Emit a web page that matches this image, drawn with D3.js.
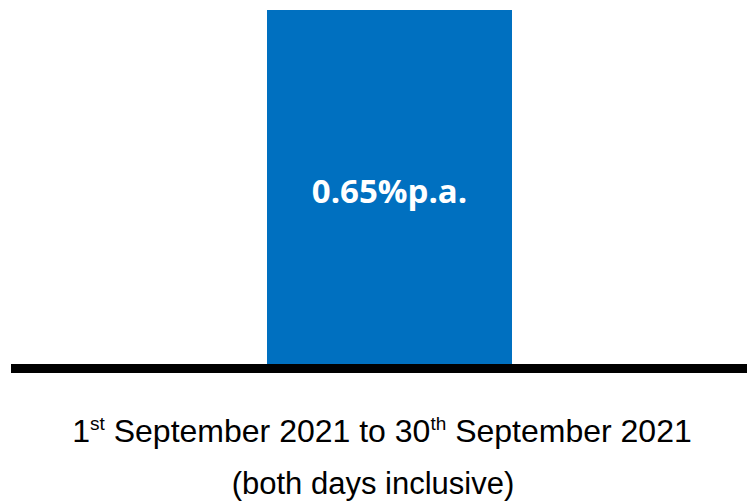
<!DOCTYPE html>
<html>
<head>
<meta charset="utf-8">
<script src="https://cdn.jsdelivr.net/npm/d3@7"></script>
<style>
  body { margin: 0; background: #fff; }
</style>
</head>
<body>
<script>
let categories = ['Sep 2021'];
let values = [0.65];
let valueLabels = ['0.65%p.a.'];
let periodLine1 = [['1', 'st'], [' September 2021 to 30', 'th'], [' September 2021', '']];
let periodLine2 = '(both days inclusive)';

let width = 747;
let height = 504;

let svg = d3.select('body')
            .append('svg')
            .attr('width', width)
            .attr('height', height)

let xScale = d3.scaleBand()
                .domain(categories)
                .range([267, 512])
                .padding(0)

let yScale = d3.scaleLinear()
                .domain([0, 0.65])
                .range([364, 10])

svg.selectAll('rect.bar')
    .data(values)
    .enter()
    .append('rect')
    .attr('class', 'bar')
    .attr('x', (d, i) => xScale(categories[i]))
    .attr('width', xScale.bandwidth())
    .attr('y', d => yScale(d))
    .attr('height', d => yScale(0) - yScale(d))
    .attr('fill', '#0070c0')

svg.selectAll('text.val')
    .data(values)
    .enter()
    .append('text')
    .attr('class', 'val')
    .attr('x', (d, i) => xScale(categories[i]) + xScale.bandwidth() / 2)
    .attr('y', d => (yScale(d) + yScale(0)) / 2 + 16)
    .attr('text-anchor', 'middle')
    .attr('fill', '#fff')
    .style('font-family', '"Open Sans", "Noto Sans", sans-serif')
    .style('font-weight', 'bold')
    .style('font-size', '33px')
    .text((d, i) => valueLabels[i])

// axis baseline
let xAxis = d3.axisBottom(xScale).tickSize(0).tickFormat('');
let axisG = svg.append('g')
    .attr('transform', 'translate(0,' + (yScale(0) + 4.5) + ')')
    .call(xAxis)
axisG.select('.domain')
    .attr('d', 'M11,0H747')
    .attr('stroke', '#000')
    .attr('stroke-width', 9)

let t1 = svg.append('text')
    .attr('x', 382)
    .attr('y', 442)
    .attr('text-anchor', 'middle')
    .attr('fill', '#000')
    .style('font-family', '"Liberation Sans", Arial, sans-serif')
    .style('font-size', '32px')

let shift = 0;
periodLine1.forEach(p => {
    t1.append('tspan').attr('dy', shift).text(p[0])
    shift = 0;
    if (p[1]) {
        t1.append('tspan')
            .attr('dy', -12)
            .style('font-size', '19px')
            .text(p[1])
        shift = 12;
    }
})

svg.append('text')
    .attr('x', 373)
    .attr('y', 494)
    .attr('text-anchor', 'middle')
    .attr('fill', '#000')
    .style('font-family', '"Liberation Sans", Arial, sans-serif')
    .style('font-size', '31px')
    .text(periodLine2)
</script>
</body>
</html>
